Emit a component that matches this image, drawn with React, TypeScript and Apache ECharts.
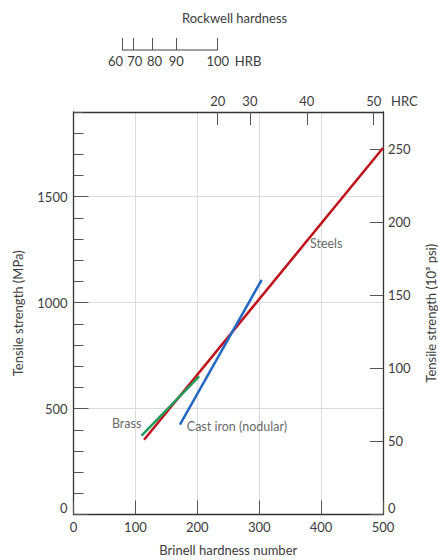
import React, { useEffect, useRef } from "react";
import * as echarts from "echarts";

// Brinell hardness (x) vs tensile strength in MPa (y)
const steelsData = [[114, 353], [500, 1730]];
const brassData = [[110, 372], [203, 652]];
const castIronData = [[172, 424], [304, 1108]];

// Rockwell scales expressed at their Brinell equivalents
const hrcLabels = ["20", "30", "40", "50"];
const hrcBrinell = [233, 285, 377, 485];
const hrbTickBrinell = [78, 97, 128, 166, 233];
const hrbLabels = ["60", "70", "80", "90", "100", "HRB"];
const hrbLabelBrinell = [68, 99, 131, 166, 233, 282];

const annotations = [
  { name: "Steels", value: [382, 1277] },
  { name: "Brass", value: [62, 429] },
  { name: "Cast iron (nodular)", value: [183, 415] },
];

const MPA_MAX = 1900;
const MPA_PER_KSI = 6.894757;

const FONT = "Lato";
const TEXT = "#3c3c3c";
const AXIS = "#333333";

const plain = (v: number) => String(Math.round(v));

export default function App() {
  const ref = useRef<HTMLDivElement>(null);
  useEffect(() => {
    document.body.style.margin = "0";
    const chart = echarts.init(ref.current!, null, { renderer: "svg" });
    chart.setOption({
      animation: false,
      backgroundColor: "#ffffff",
      textStyle: { fontFamily: FONT, color: TEXT },
      title: {
        text: "Rockwell hardness",
        left: 177,
        top: 6,
        textStyle: { fontFamily: FONT, fontSize: 13, fontWeight: "normal", color: TEXT },
      },
      grid: [
        { left: 73.5, right: 55, top: 112, bottom: 45.5, outerBoundsMode: "none", containLabel: false },
        { left: 73.5, right: 55, top: 20, height: 30, outerBoundsMode: "none", containLabel: false },
      ],
      xAxis: [
        {
          type: "value",
          gridIndex: 0,
          position: "bottom",
          min: 0,
          max: 500,
          interval: 100,
          name: "Brinell hardness number",
          nameLocation: "middle",
          nameGap: 29,
          nameMoveOverlap: false,
          nameTextStyle: { fontFamily: FONT, fontSize: 13, color: TEXT },
          axisLine: { show: true, onZero: false, lineStyle: { color: AXIS, width: 1.3 } },
          axisTick: { show: true, inside: true, length: 14, lineStyle: { color: "#555" } },
          axisLabel: { fontFamily: FONT, fontSize: 13, color: TEXT, margin: 6, formatter: plain, hideOverlap: false },
          splitLine: { show: true, lineStyle: { color: "#dcdcdc", width: 1 } },
        },
        {
          type: "value",
          gridIndex: 0,
          position: "top",
          min: 0,
          max: 500,
          name: "HRC",
          nameLocation: "end",
          nameGap: 8,
          nameMoveOverlap: false,
          nameTextStyle: {
            fontFamily: FONT,
            fontSize: 13,
            color: TEXT,
            verticalAlign: "bottom",
            padding: [0, 0, 5, 0],
          },
          axisLine: { show: true, onZero: false, lineStyle: { color: AXIS, width: 1.3 } },
          axisTick: {
            show: true,
            inside: true,
            length: 13,
            customValues: hrcBrinell,
            lineStyle: { color: "#555" },
          },
          axisLabel: {
            show: true,
            fontFamily: FONT,
            fontSize: 13,
            color: TEXT,
            margin: 5,
            hideOverlap: false,
            showMinLabel: true,
            showMaxLabel: true,
            customValues: hrcBrinell,
            formatter: (v: number) => {
              const i = hrcBrinell.indexOf(v);
              return i >= 0 ? hrcLabels[i] : "";
            },
          },
          splitLine: { show: false },
        },
        {
          type: "value",
          gridIndex: 1,
          position: "bottom",
          min: 0,
          max: 500,
          axisLine: { show: false, onZero: false },
          axisTick: {
            show: true,
            inside: true,
            length: 12,
            customValues: hrbTickBrinell,
            lineStyle: { color: "#555" },
          },
          axisLabel: {
            show: true,
            fontFamily: FONT,
            fontSize: 13,
            color: TEXT,
            margin: 4,
            hideOverlap: false,
            showMinLabel: true,
            showMaxLabel: true,
            customValues: hrbLabelBrinell,
            formatter: (v: number) => {
              const i = hrbLabelBrinell.indexOf(v);
              return i >= 0 ? hrbLabels[i] : "";
            },
          },
          splitLine: { show: false },
        },
      ],
      yAxis: [
        {
          type: "value",
          gridIndex: 0,
          position: "left",
          min: 0,
          max: MPA_MAX,
          interval: 500,
          name: "Tensile strength (MPa)",
          nameLocation: "middle",
          nameGap: 49,
          nameRotate: 90,
          nameMoveOverlap: false,
          nameTextStyle: { fontFamily: FONT, fontSize: 13, color: TEXT },
          axisLine: { show: true, onZero: false, lineStyle: { color: AXIS, width: 1.3 } },
          axisTick: { show: true, inside: true, length: 15, lineStyle: { color: "#555" } },
          axisLabel: {
            fontFamily: FONT,
            fontSize: 13,
            color: TEXT,
            margin: 6,
            showMaxLabel: false,
            verticalAlignMinLabel: "bottom",
            formatter: plain,
          },
          splitLine: { show: true, lineStyle: { color: "#dcdcdc", width: 1 } },
        },
        {
          type: "value",
          gridIndex: 0,
          position: "left",
          min: 0,
          max: MPA_MAX,
          interval: 100,
          axisLine: { show: false, onZero: false },
          axisTick: { show: true, inside: true, length: 10, lineStyle: { color: "#555" } },
          axisLabel: { show: false },
          splitLine: { show: false },
        },
        {
          type: "value",
          gridIndex: 0,
          position: "right",
          min: 0,
          max: MPA_MAX / MPA_PER_KSI,
          interval: 50,
          name: "Tensile strength (10³ psi)",
          nameLocation: "middle",
          nameGap: 41,
          nameRotate: 90,
          nameMoveOverlap: false,
          nameTextStyle: { fontFamily: FONT, fontSize: 13, color: TEXT },
          axisLine: { show: true, onZero: false, lineStyle: { color: AXIS, width: 1.3 } },
          axisTick: { show: true, inside: true, length: 13, lineStyle: { color: "#555" } },
          axisLabel: {
            fontFamily: FONT,
            fontSize: 13,
            color: TEXT,
            margin: 5,
            showMaxLabel: false,
            verticalAlignMinLabel: "bottom",
            formatter: plain,
          },
          splitLine: { show: false },
        },
        {
          type: "value",
          gridIndex: 1,
          min: 0,
          max: 1,
          show: false,
        },
      ],
      series: [
        {
          name: "HRB scale",
          type: "line",
          xAxisIndex: 2,
          yAxisIndex: 3,
          data: [
            [hrbTickBrinell[0], 0],
            [hrbTickBrinell[hrbTickBrinell.length - 1], 0],
          ],
          showSymbol: false,
          clip: false,
          lineStyle: { color: "#444", width: 1.2 },
          silent: true,
        },
        {
          name: "Steels",
          type: "line",
          data: steelsData,
          showSymbol: false,
          lineStyle: { color: "#c0101a", width: 2.5 },
        },
        {
          name: "Cast iron (nodular)",
          type: "line",
          data: castIronData,
          showSymbol: false,
          lineStyle: { color: "#2469c4", width: 2.5 },
        },
        {
          name: "Brass",
          type: "line",
          data: brassData,
          showSymbol: false,
          lineStyle: { color: "#1f9a58", width: 2.5 },
        },
        {
          name: "labels",
          type: "scatter",
          data: annotations,
          symbolSize: 0,
          silent: true,
          label: {
            show: true,
            position: "right",
            distance: 0,
            formatter: (p: any) => p.name,
            fontFamily: FONT,
            fontSize: 12.5,
            color: TEXT,
          },
        },
      ],
    });
    return () => chart.dispose();
  }, []);
  return <div ref={ref} style={{ width: 438, height: 560 }} />;
}
